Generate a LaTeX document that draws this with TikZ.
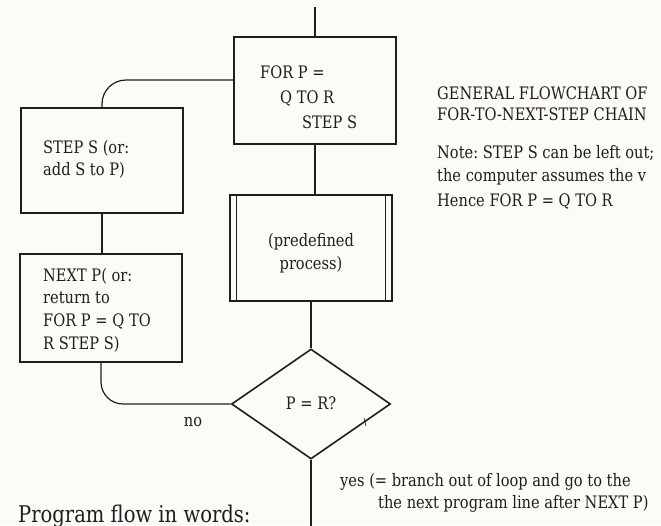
\documentclass[tikz,border=0pt]{standalone}
\usepackage{fontspec}
\setmainfont{DejaVu Serif}[FakeStretch=0.85]
\usetikzlibrary{shapes.geometric}
\definecolor{ink}{HTML}{1E1E1E}
\definecolor{paper}{HTML}{FCFBF6}
\frenchspacing
\begin{document}
\begin{tikzpicture}[x=1pt,y=-1pt,
  box/.style={draw=ink, line width=1.6pt, inner sep=0pt},
  conn/.style={draw=ink, line width=1.2pt},
  txt/.style={inner sep=0pt, text=ink, text height=12.3pt, text depth=0pt,
    font=\fontsize{17.2}{20}\selectfont},
  bigtxt/.style={inner sep=0pt, text=ink, font=\fontsize{23}{26}\selectfont}]
\fill[paper] (0,0) rectangle (661,525);
\useasboundingbox (0,0) rectangle (661,525);

% boxes
\node[box, minimum width=162pt, minimum height=107pt] (for) at (315,90.5) {};
\node[box, minimum width=162pt, minimum height=105pt] (step) at (102,160.5) {};
\node[box, minimum width=162pt, minimum height=108pt] (next) at (101,308) {};
\node[box, minimum width=162pt, minimum height=106pt] (pre) at (311,248) {};
\draw[ink, line width=1.1pt] ([xshift=7pt]pre.north west) -- ([xshift=7pt]pre.south west);
\draw[ink, line width=1.1pt] ([xshift=-7pt]pre.north east) -- ([xshift=-7pt]pre.south east);
\node[box, diamond, minimum width=159pt, minimum height=110pt, aspect=1.45] (dia) at (311,404) {};

% texts in boxes
\node[txt, anchor=west] (f1) at (260,72) {FOR P =};
\node[txt, anchor=west] (f2) at (280,97) {Q TO R};
\node[txt, anchor=west] (f3) at (302,122) {STEP S};
\node[txt, anchor=west] (s1) at (43,147) {STEP S (or:};
\node[txt, anchor=west] (s2) at (43,169) {add S to P)};
\node[txt, anchor=west] (n1) at (43,275) {NEXT P( or:};
\node[txt, anchor=west] (n2) at (43,297) {return to};
\node[txt, anchor=west] (n3) at (43,320) {FOR P = Q TO};
\node[txt, anchor=west] (n4) at (43,343) {R STEP S)};
\node[txt] (p1) at (311,240) {(predefined};
\node[txt] (p2) at (311,263) {process)};
\node[txt] (d1) at (311,403) {P = R?};

% side texts
\node[txt, anchor=west] (g1) at (437,93) {GENERAL FLOWCHART OF};
\node[txt, anchor=west] (g2) at (437,114) {FOR-TO-NEXT-STEP CHAIN};
\node[txt, anchor=west] (g3) at (437,152) {Note: STEP S can be left out;};
\node[txt, anchor=west] (g4) at (437,175) {the computer assumes the v};
\node[txt, anchor=west] (g5) at (437,200) {Hence FOR P = Q TO R};
\node[txt] (no) at (193,420) {no};
\node[txt, anchor=west] (y1) at (340,480) {yes (= branch out of loop and go to the};
\node[txt, anchor=west] (y2) at (378,502) {the next program line after NEXT P)};
\node[bigtxt, anchor=base west] (pf) at (18,522) {Program flow in words:};

% connectors
\coordinate (top) at (315,7);
\coordinate (bot) at (311,530);
\draw[conn] (top) -- (for.north);
\draw[conn] (for.south) -- (for.south |- pre.north);
\draw[conn] (pre.south) -- (dia.north);
\draw[conn, rounded corners=24pt] ([yshift=10.5pt]for.west) -| (step.north);
\draw[conn] (step.south) -- (step.south |- next.north);
\draw[conn, rounded corners=22pt] (next.south) |- (dia.west);
\draw[conn] (dia.south) -- (bot);
\coordinate (tk1) at (364,418);
\coordinate (tk2) at (366,426);
\draw[ink, line width=0.7pt] (tk1) -- (tk2);
\end{tikzpicture}
\end{document}
